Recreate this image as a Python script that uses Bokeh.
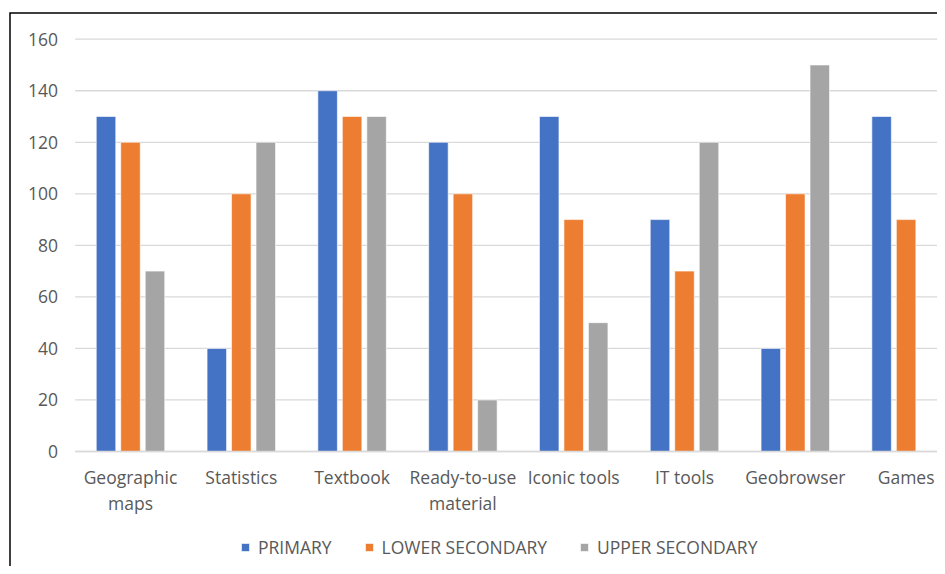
from bokeh.plotting import figure
from bokeh.models import (ColumnDataSource, Range1d, FixedTicker, Legend, LegendItem,
                          LinearAxis)
from bokeh.embed import file_html
from bokeh.resources import INLINE

categories = ["Geographic\nmaps", "Statistics", "Textbook", "Ready-to-use\nmaterial",
              "Iconic tools", "IT tools", "Geobrowser", "Games"]
primary = [130, 40, 140, 120, 130, 90, 40, 130]
lower_secondary = [120, 100, 130, 100, 90, 70, 100, 90]
upper_secondary = [70, 120, 130, 20, 50, 120, 150, 0]
series_names = ["PRIMARY", "LOWER SECONDARY", "UPPER SECONDARY"]
series_values = [primary, lower_secondary, upper_secondary]
colors = ["#4472C4", "#ED7D31", "#A5A5A5"]
y_ticks = [0, 20, 40, 60, 80, 100, 120, 140, 160]

FONT = "Open Sans"
TXT = "#595959"
GRID = "#D9D9D9"

W, H = 937, 566
# pixel layout of the plot area inside the canvas
PX_LEFT, PX_ZERO, PX_TOP = 74.6, 451.0, 38.7
CAT_PX = 110.8
Y_MAX = 160
y_px = (PX_ZERO - PX_TOP) / Y_MAX

x_start = -PX_LEFT / CAT_PX
x_end = (W - PX_LEFT) / CAT_PX
y_end = PX_ZERO / y_px
y_start = -(H - PX_ZERO) / y_px

p = figure(width=W, height=H, output_backend="svg", toolbar_location=None,
           x_range=Range1d(x_start, x_end), y_range=Range1d(y_start, y_end),
           x_axis_location=None, y_axis_location=None,
           min_border=0)
p.outline_line_color = None
p.background_fill_color = "white"
p.border_fill_color = "white"
p.xgrid.visible = False
p.ygrid.visible = False

# horizontal gridlines
p.segment(x0=[0] * len(y_ticks), x1=[x_end] * len(y_ticks), y0=y_ticks, y1=y_ticks,
          line_color=GRID, line_width=1.3)

centers = [i + 0.5 for i in range(len(categories))]
offsets = [-0.221, 0.0, 0.221]
items = []
for name, vals, col, off in zip(series_names, series_values, colors, offsets):
    src = ColumnDataSource(dict(x=[c + off for c in centers], top=vals))
    r = p.vbar(x="x", top="top", width=0.176, bottom=0, source=src,
               fill_color=col, line_color="white", line_width=0.6)
    items.append(LegendItem(label=name, renderers=[r]))

# x axis at y = 0
xaxis = LinearAxis(fixed_location=0, bounds=(0, x_end),
                   ticker=FixedTicker(ticks=centers),
                   major_label_overrides={c: lab for c, lab in zip(centers, categories)})
xaxis.major_tick_line_color = None
xaxis.minor_tick_line_color = None
xaxis.axis_line_color = GRID
xaxis.axis_line_width = 1.3
xaxis.major_label_text_font = FONT
xaxis.major_label_text_font_size = "17.5px"
xaxis.major_label_text_color = TXT
xaxis.major_label_text_line_height = 1.1
xaxis.major_label_standoff = 7
p.add_layout(xaxis, "below")

# y axis at x = 0
yaxis = LinearAxis(fixed_location=0, bounds=(0, Y_MAX), ticker=FixedTicker(ticks=y_ticks))
yaxis.major_tick_line_color = None
yaxis.minor_tick_line_color = None
yaxis.axis_line_color = None
yaxis.major_label_text_font = FONT
yaxis.major_label_text_font_size = "17.5px"
yaxis.major_label_text_color = TXT
yaxis.major_label_standoff = 11
p.add_layout(yaxis, "left")

legend = Legend(items=items, orientation="horizontal", location=(240, 7),
                label_text_font=FONT, label_text_font_size="17.5px",
                label_text_color=TXT, glyph_width=10, glyph_height=10,
                label_standoff=8, spacing=32, border_line_color=None,
                background_fill_alpha=0, margin=0, padding=0)
p.add_layout(legend)

# chart border: left and top edges (right and bottom lie outside the window)
bx = (9.5 - PX_LEFT) / CAT_PX
by = (PX_ZERO - 12.5) / y_px
p.line(x=[bx, bx, x_end + 1], y=[y_start - 5, by, by],
       line_color="black", line_width=1.5, line_join="miter")

open("out.html", "w").write(file_html(p, INLINE))
